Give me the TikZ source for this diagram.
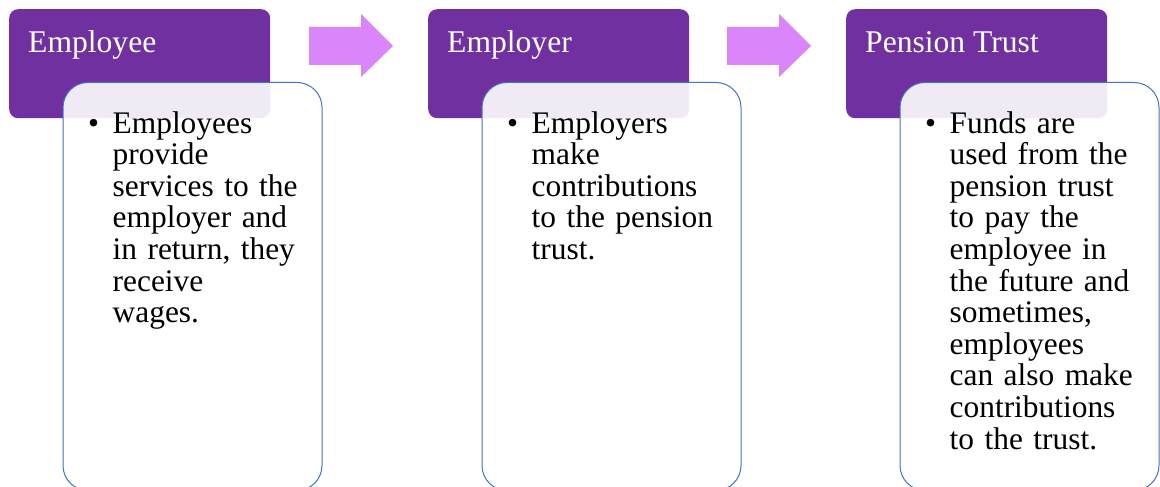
\documentclass[tikz,border=0pt]{standalone}
\usepackage{fontspec}
\setmainfont{Liberation Serif}
\definecolor{headpurple}{RGB}{112,48,160}
\definecolor{arrowviolet}{RGB}{218,134,250}
\definecolor{edgeblue}{RGB}{68,114,196}
\tikzset{
  headbox/.style={fill=headpurple, rounded corners=9pt, minimum width=261pt,
    minimum height=109pt, anchor=north west, inner sep=0pt},
  headtext/.style={text=white, font=\fontsize{31.6}{36}\selectfont, inner sep=0pt,
    anchor=base west},
  bodybox/.style={draw=edgeblue, line width=1pt, fill=white, fill opacity=0.9,
    rounded corners=25pt, minimum width=259pt, minimum height=408pt,
    anchor=north west, inner sep=0pt},
  bodytext/.style={font=\fontsize{31.4}{31.6}\selectfont, inner sep=0pt,
    anchor=base west, text width=200pt, align=left},
  bullettext/.style={font=\fontsize{31.4}{31.6}\selectfont, inner sep=0pt,
    anchor=base west},
  blockarrow/.style={fill=arrowviolet},
}
\begin{document}
\begin{tikzpicture}[x=1pt,y=-1pt]
\useasboundingbox (0,0) rectangle (1160,487);

% column 1: employee
\node[headbox] (h1) at (9,9) {};
\node[headtext] (t1) at ([xshift=19pt,yshift=-44pt]h1.north west) {Employee};
\node[bodybox] (b1) at (62.5,82) {};
\node[bullettext] (u1) at (88,133) {•};
\node[bodytext] (x1) at (112.5,133) {Employees\\provide\\services to the\\employer and\\in return, they\\receive\\wages.};

% column 2: employer
\node[headbox] (h2) at (428,9) {};
\node[headtext] (t2) at ([xshift=19pt,yshift=-44pt]h2.north west) {Employer};
\node[bodybox] (b2) at (481.5,82) {};
\node[bullettext] (u2) at (507,133) {•};
\node[bodytext] (x2) at (531.5,133) {Employers\\make\\contributions\\to the pension\\trust.};

% column 3: pension trust
\node[headbox] (h3) at (846,9) {};
\node[headtext] (t3) at ([xshift=19pt,yshift=-44pt]h3.north west) {Pension Trust};
\node[bodybox] (b3) at (899.5,82) {};
\node[bullettext] (u3) at (925,133) {•};
\node[bodytext] (x3) at (949.5,133) {Funds are\\used from the\\pension trust\\to pay the\\employee in\\the future and\\sometimes,\\employees\\can also make\\contributions\\to the trust.};

% block arrows between the stages
\fill[blockarrow] (309,27) -- (361,27) -- (361,14) -- (393,46) -- (361,77) -- (361,65) -- (309,65) -- cycle;
\fill[blockarrow] (727,27) -- (779,27) -- (779,14) -- (811,46) -- (779,77) -- (779,65) -- (727,65) -- cycle;
\end{tikzpicture}
\end{document}
